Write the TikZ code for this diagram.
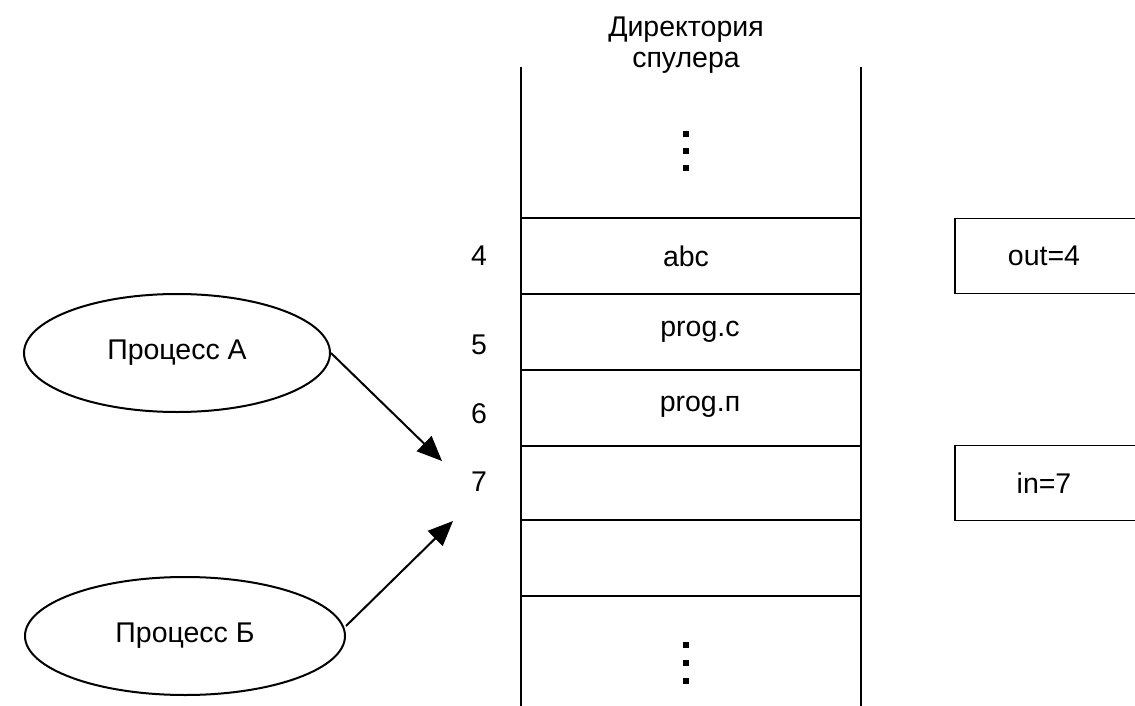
\documentclass[tikz,border=0pt]{standalone}
\usepackage{fontspec}
\setmainfont{Liberation Sans}
\usetikzlibrary{arrows.meta,shapes.geometric}
\begin{document}
\begin{tikzpicture}[x=1pt,y=-1pt,
  line width=2pt,
  wall/.style={line width=2.7pt},
  lbl/.style={font=\fontsize{28.5}{30}\selectfont, inner sep=0pt},
  proc/.style={draw, ellipse, line width=2pt, minimum height=118pt, font=\fontsize{28.5}{30}\selectfont},
  varbox/.style={draw, rectangle, line width=1.4pt, minimum width=190pt, minimum height=75pt, inner sep=0pt},
  dot/.style={fill=black, minimum size=6.5pt, inner sep=0pt, rectangle},
  link/.style={-{Triangle[length=25pt,width=21pt]}, line width=2pt}
]
\useasboundingbox (0,0) rectangle (1135,706);
\clip (0,0) rectangle (1135,706);

% heading above the table
\node[lbl, align=center, font=\fontsize{28.5}{31}\selectfont] (head) at (686,45) {Директория\\спулера};

% walls of the directory
\coordinate (lt) at (521,67);  \coordinate (lb) at (521,710);
\coordinate (rt) at (861,67);  \coordinate (rb) at (861,710);
\draw[wall] (lt) -- (lb);
\draw[wall] (rt) -- (rb);

% slot borders
\foreach \y/\n in {218/a,294/b,370/c,446/d,520/e,596/f}{
  \coordinate (L\n) at (521,\y);
  \coordinate (R\n) at (861,\y);
  \draw[wall] (L\n) -- (R\n);
}

% dots above and below
\foreach \y/\n in {134/1,151/2,168/3}{\node[dot] (top\n) at (686,\y) {};}
\foreach \y/\n in {645/1,663/2,681/3}{\node[dot] (bot\n) at (686,\y) {};}

% slot contents
\node[lbl] (abc) at (686,256) {abc};
\node[lbl] (progc) at (700,332) {prog.c};
\node[lbl] (progn) at (700,407) {prog.п};

% slot numbers
\node[lbl] (n4) at (479,256) {4};
\node[lbl] (n5) at (479,345) {5};
\node[lbl] (n6) at (479,414) {6};
\node[lbl] (n7) at (479,482) {7};

% shared variables
\node[varbox] (out) at (1050,256) {};
\node[lbl] (outt) at (1044,256) {out=4};
\node[varbox] (in) at (1050,483) {};
\node[lbl] (int) at (1044,483) {in=7};

% processes
\node[proc, minimum width=306pt] (pa) at (177,353) {Процесс А};
\node[proc, minimum width=320pt] (pb) at (185,636) {Процесс Б};

\coordinate (ta) at (442,461);
\coordinate (tb) at (453,521);
\draw[link] (pa.east) -- (ta);
\draw[link] (pb.east) ++(0,-10) -- (tb);
\end{tikzpicture}
\end{document}
